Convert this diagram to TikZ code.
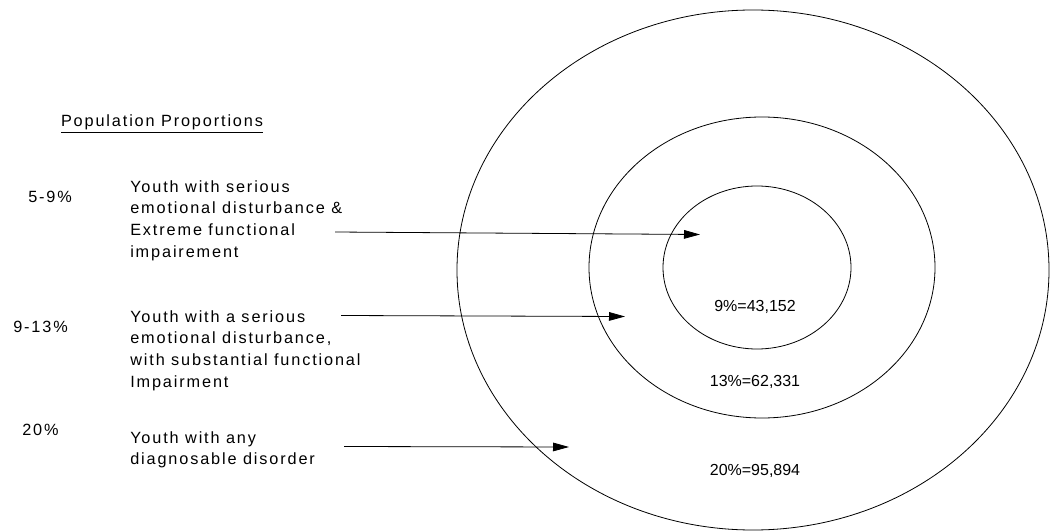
\documentclass[tikz,border=0pt]{standalone}
\usepackage{fontspec}
\setmainfont{Liberation Sans}
\newfontfamily\spacedfont[LetterSpace=11.5]{Liberation Sans}
\usetikzlibrary{arrows.meta,positioning}

\tikzset{
  desc/.style={font=\spacedfont\fontsize{12.2}{16.3}\selectfont, align=left, anchor=north west, inner sep=0pt},
  pct/.style={font=\spacedfont\fontsize{12.2}{16.3}\selectfont, anchor=west, inner sep=0pt},
  count/.style={font=\fontsize{12}{14}\selectfont, inner sep=0pt},
  ring/.style={line width=0.6pt},
  pointer/.style={line width=0.6pt, -{Triangle[length=12pt,width=6.5pt]}}
}

\begin{document}
\begin{tikzpicture}[x=0.75pt,y=-0.75pt]
    \useasboundingbox (0,0) rectangle (1050,531);

    % Rings
    \draw[ring] (753,270) ellipse [x radius=296, y radius=260];
    \draw[ring] (762,267.5) ellipse [x radius=173, y radius=150.5];
    \draw[ring] (757,267.5) ellipse [x radius=94, y radius=81.5];

    % Counts inside the rings
    \node[count] (inner) at (755,307) {9\%=43,152};
    \node[count] (middle) at (755,382) {13\%=62,331};
    \node[count] (outer) at (755,471) {20\%=95,894};

    % Heading
    \node[font=\spacedfont\fontsize{12.2}{16.3}\selectfont, inner sep=0pt] (title) at (162,124) {\underline{Population Proportions}};

    % Proportions
    \node[pct] (p1) at (28,197) {5-9\%};
    \node[pct] (p2) at (13,327) {9-13\%};
    \node[pct] (p3) at (22,430) {20\%};

    % Descriptions
    \node[desc] (d1) at (130,180) {Youth with serious\\emotional disturbance \&\\Extreme functional\\impairement};
    \node[desc] (d2) at (130,310) {Youth with a serious\\emotional disturbance,\\with substantial functional\\Impairment};
    \node[desc] (d3) at (130,431) {Youth with any\\diagnosable disorder};

    % Pointers
    \coordinate (s1) at (335,232);
    \coordinate (t1) at (700,234.5);
    \coordinate (s2) at (341,315.5);
    \coordinate (t2) at (625,316.5);
    \coordinate (s3) at (344,446.5);
    \coordinate (t3) at (569,447);
    \draw[pointer] (s1) -- (t1);
    \draw[pointer] (s2) -- (t2);
    \draw[pointer] (s3) -- (t3);
\end{tikzpicture}
\end{document}
